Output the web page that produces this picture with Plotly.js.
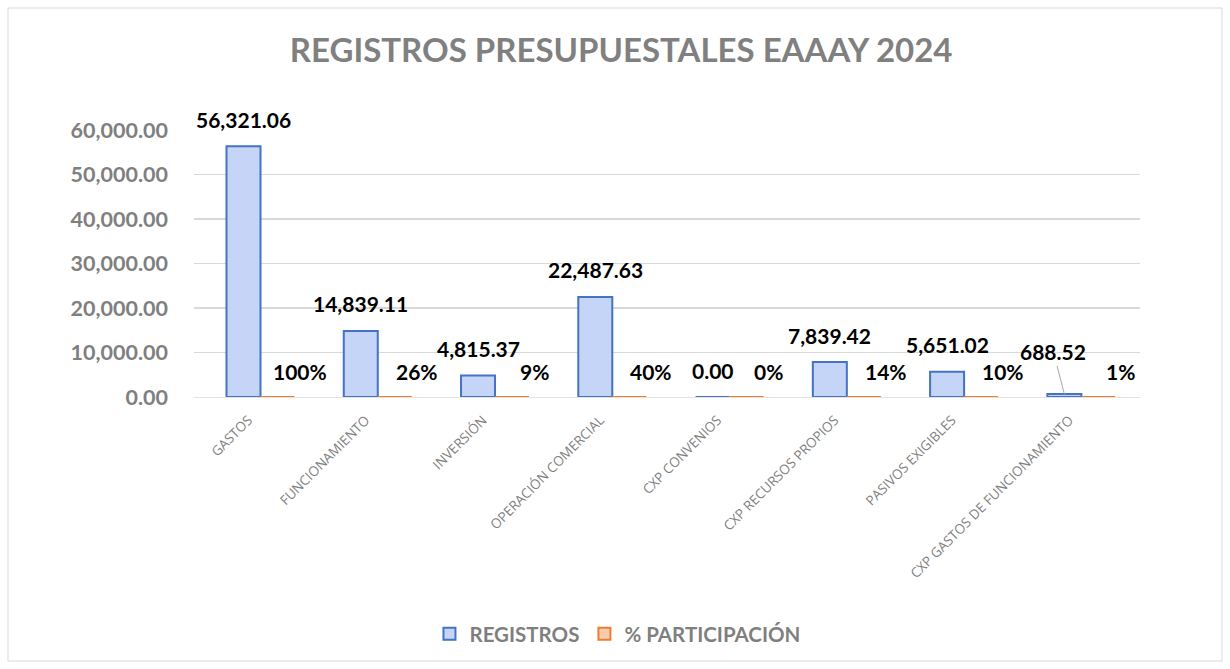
<!DOCTYPE html>
<html>
<head>
<meta charset="utf-8">
<script src="https://cdn.plot.ly/plotly-3.0.1.min.js"></script>
<style>
html,body{margin:0;padding:0;background:#fff;}
#chart{width:1230px;height:669px;}
</style>
</head>
<body>
<div id="chart"></div>
<script>
const categories = ["GASTOS","FUNCIONAMIENTO","INVERSIÓN","OPERACIÓN COMERCIAL","CXP CONVENIOS","CXP RECURSOS PROPIOS","PASIVOS EXIGIBLES","CXP GASTOS DE FUNCIONAMIENTO"];
const registros = [56321.06, 14839.11, 4815.37, 22487.63, 0.00, 7839.42, 5651.02, 688.52];
const participacion = [1.00, 0.26, 0.09, 0.40, 0.00, 0.14, 0.10, 0.01];
const participacionLabels = ["100%","26%","9%","40%","0%","14%","10%","1%"];

const yMax = 60000;
const plotTop = 130, plotBottom = 397;
const plotH = plotBottom - plotTop;
const plotLeft = 194, plotRight = 1230 - 90;
const plotW = plotRight - plotLeft;

const labelFont = {family: "Lato, 'Open Sans', sans-serif", size: 21, color: "#000000", weight: "bold"};
const fmt = v => v.toLocaleString("en-US", {minimumFractionDigits: 2, maximumFractionDigits: 2});

const traces = [
  {
    type: "bar",
    name: "REGISTROS",
    x: categories,
    y: registros,
    marker: {color: "#c5d5f7", line: {color: "#4472c4", width: 2}},
    hoverinfo: "x+y"
  },
  {
    type: "bar",
    name: "% PARTICIPACIÓN",
    x: categories,
    y: participacion,
    marker: {color: "#f8cbad", line: {color: "#ed7d31", width: 2}},
    hoverinfo: "x+y"
  }
];

const annotations = [];
categories.forEach((c, i) => {
  const v = registros[i];
  const barPx = v / yMax * plotH;
  const tiny = v > 0 && barPx < 8;
  const a = {
    x: c, y: v, xref: "x", yref: "y",
    text: fmt(v),
    font: labelFont,
    xshift: -17,
    yanchor: "middle"
  };
  if (tiny) {
    a.showarrow = true;
    a.arrowhead = 0;
    a.arrowwidth = 1;
    a.arrowcolor = "#a6a6a6";
    a.ax = -11;
    a.ay = -42;
  } else {
    a.showarrow = false;
    a.yshift = 27;
  }
  annotations.push(a);
  annotations.push({
    x: c, y: participacion[i], xref: "x", yref: "y",
    text: participacionLabels[i],
    font: labelFont,
    showarrow: false,
    xshift: 17 + 22,
    yshift: 26,
    yanchor: "middle"
  });
});

const layout = {
  width: 1230,
  height: 669,
  margin: {l: plotLeft, r: 1230 - plotRight, t: plotTop, b: 669 - plotBottom, autoexpand: false},
  paper_bgcolor: "#ffffff",
  plot_bgcolor: "#ffffff",
  barmode: "group",
  bargap: 0.42,
  bargroupgap: 0,
  title: {
    text: "REGISTROS PRESUPUESTALES EAAAY 2024",
    x: 0.505, xref: "container", xanchor: "center",
    y: 1 - 50 / 669, yref: "container", yanchor: "middle",
    font: {family: "Lato, 'Open Sans', sans-serif", size: 33, color: "#808080", weight: "bold"}
  },
  xaxis: {
    tickangle: -45,
    tickfont: {family: "'Open Sans', Lato, sans-serif", size: 13.5, color: "#7f7f7f"},
    showgrid: false,
    showline: true,
    linecolor: "#e3e3e3",
    ticks: "",
    ticklabelstandoff: 9,
    ticklabelshift: -12
  },
  yaxis: {
    range: [0, yMax],
    tickvals: [0, 10000, 20000, 30000, 40000, 50000, 60000],
    tickformat: ",.2f",
    tickfont: {family: "Lato, 'Open Sans', sans-serif", size: 21.5, color: "#7f7f7f", weight: "bold"},
    gridcolor: "#d9d9d9",
    gridwidth: 1.5,
    zeroline: false,
    showline: false,
    ticklabelstandoff: 25
  },
  legend: {
    orientation: "h",
    x: 0.502, xref: "container", xanchor: "center",
    y: 1 - 634 / 669, yref: "container", yanchor: "middle",
    font: {family: "Lato, 'Open Sans', sans-serif", size: 20.5, color: "#7f7f7f", weight: "bold"},
    itemwidth: 30,
    traceorder: "normal"
  },
  showlegend: true,
  annotations: annotations,
  shapes: [
    {type: "rect", xref: "paper", yref: "paper",
     x0: (8 - plotLeft) / plotW, x1: (1222 - plotLeft) / plotW,
     y0: (plotBottom - 661) / plotH, y1: (plotBottom - 8) / plotH,
     line: {color: "#d9d9d9", width: 1}, fillcolor: "rgba(0,0,0,0)", layer: "below"}
  ]
};

Plotly.newPlot("chart", traces, layout, {displayModeBar: false, staticPlot: true});
</script>
</body>
</html>
